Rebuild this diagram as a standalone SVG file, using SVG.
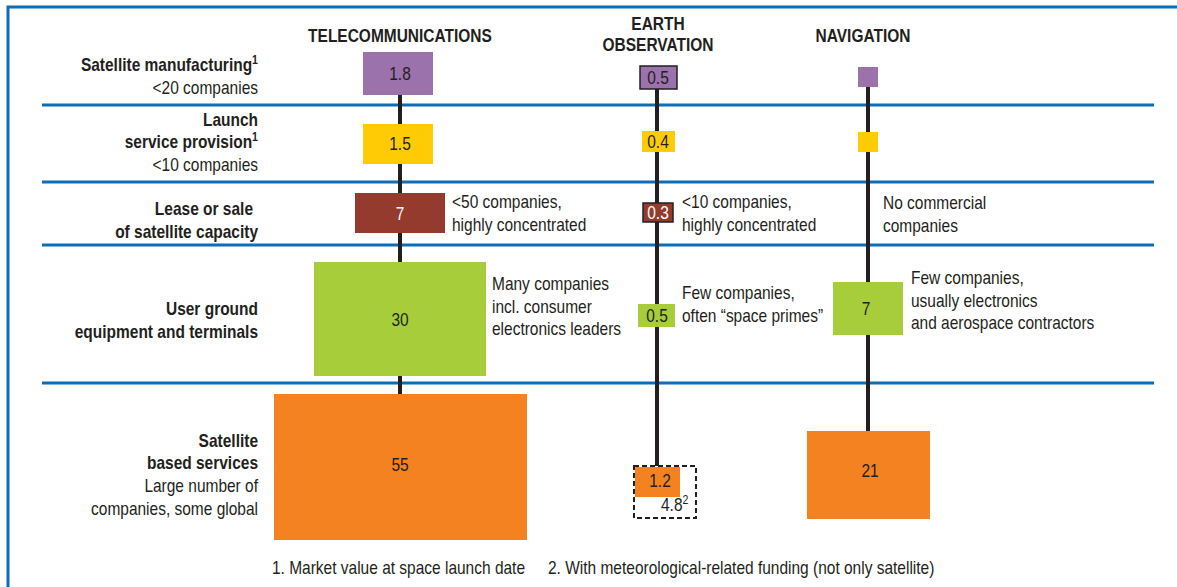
<svg xmlns="http://www.w3.org/2000/svg" width="1177" height="587" viewBox="0 0 1177 587">
<style>
text{font-family:"Liberation Sans Narrow","Liberation Sans",Arial,sans-serif;fill:#231f20;font-size:19px;transform-box:view-box;transform-origin:0 0;transform:scale(0.815,1)}
.b{font-weight:bold}
.r{text-anchor:end}
.m{text-anchor:middle}
.w{fill:#ffffff}
.sup{font-size:13px}
.sep{stroke:#0c6db8;stroke-width:3;fill:none}
.conn{stroke:#231f20;stroke-width:4;fill:none}
.pu{fill:#9b72ac}.ye{fill:#ffcb05}.br{fill:#953b2d}.gr{fill:#a7cd3a}.or{fill:#f58220}
.ol{stroke:#231f20;stroke-width:1.5}
</style>
<rect width="1177" height="587" fill="#ffffff"/>
<path class="sep" d="M8,587 V7 H1177"/>
<g id="separators">
<line class="sep" x1="42" y1="105" x2="1154" y2="105"/>
<line class="sep" x1="42" y1="182" x2="1154" y2="182"/>
<line class="sep" x1="42" y1="245" x2="1154" y2="245"/>
<line class="sep" x1="42" y1="383" x2="1154" y2="383"/>
</g>
<g id="headers">
<text class="b m" x="490.80" y="42">TELECOMMUNICATIONS</text>
<text class="b m" x="807.36" y="30">EARTH</text>
<text class="b m" x="807.36" y="51.5">OBSERVATION</text>
<text class="b m" x="1058.90" y="42">NAVIGATION</text>
</g>
<g id="row-labels">
<text class="b r" x="316.56" y="71">Satellite manufacturing<tspan class="sup" dy="-7">1</tspan></text>
<text class="r" x="316.56" y="94">&lt;20 companies</text>
<text class="b r" x="316.56" y="126">Launch</text>
<text class="b r" x="316.56" y="148">service provision<tspan class="sup" dy="-7">1</tspan></text>
<text class="r" x="316.56" y="171">&lt;10 companies</text>
<text class="b r" x="310.43" y="215">Lease or sale</text>
<text class="b r" x="316.56" y="238">of satellite capacity</text>
<text class="b r" x="316.56" y="315">User ground</text>
<text class="b r" x="316.56" y="338">equipment and terminals</text>
<text class="b r" x="316.56" y="447">Satellite</text>
<text class="b r" x="316.56" y="469">based services</text>
<text class="r" x="316.56" y="492">Large number of</text>
<text class="r" x="316.56" y="515">companies, some global</text>
</g>
<g id="connectors">
<line class="conn" x1="400" y1="95" x2="400" y2="394"/>
<line class="conn" x1="657" y1="89" x2="657" y2="466"/>
<line class="conn" x1="868" y1="87" x2="868" y2="431"/>
</g>
<g id="telecom-manufacturing"><rect class="pu" x="363" y="52" width="70" height="43"/><text class="m" x="490.80" y="80">1.8</text></g>
<g id="telecom-launch"><rect class="ye" x="363" y="124" width="70" height="40"/><text class="m" x="490.80" y="150">1.5</text></g>
<g id="telecom-lease"><rect class="br" x="355" y="193" width="90" height="40"/><text class="m w" x="490.80" y="220">7</text>
<text x="554.60" y="208">&lt;50 companies,</text><text x="554.60" y="231">highly concentrated</text></g>
<g id="telecom-ground"><rect class="gr" x="314" y="262" width="172" height="114"/><text class="m" x="490.80" y="326">30</text>
<text x="603.68" y="290">Many companies</text><text x="603.68" y="313">incl. consumer</text><text x="603.68" y="335">electronics leaders</text></g>
<g id="telecom-services"><rect class="or" x="274" y="394" width="253" height="146"/><text class="m" x="490.80" y="471">55</text></g>
<g id="eo-manufacturing"><rect class="pu ol" x="640" y="66" width="37" height="23"/><text class="m" x="807.36" y="84">0.5</text></g>
<g id="eo-launch"><rect class="ye" x="642" y="131" width="33" height="21"/><text class="m" x="807.36" y="148">0.4</text></g>
<g id="eo-lease"><rect class="br ol" x="643" y="203" width="30" height="19"/><text class="m w" x="807.36" y="219">0.3</text>
<text x="836.81" y="208">&lt;10 companies,</text><text x="836.81" y="231">highly concentrated</text></g>
<g id="eo-ground"><rect class="gr" x="638" y="304" width="37" height="23"/><text class="m" x="806.13" y="322">0.5</text>
<text x="836.81" y="299">Few companies,</text><text x="836.81" y="322">often “space primes”</text></g>
<g id="eo-services"><rect x="634" y="466" width="62" height="52" fill="none" stroke="#231f20" stroke-width="2" stroke-dasharray="5,3"/><rect class="or" x="635" y="467" width="45" height="30"/><text class="m" x="809.82" y="487">1.2</text><text x="811.04" y="511">4.8<tspan class="sup" dy="-7">2</tspan></text></g>
<g id="nav-manufacturing"><rect class="pu" x="858" y="67" width="20" height="20"/></g>
<g id="nav-launch"><rect class="ye" x="858" y="132" width="20" height="20"/></g>
<g id="nav-lease"><text x="1083.44" y="209">No commercial</text><text x="1083.44" y="232">companies</text></g>
<g id="nav-ground"><rect class="gr" x="833" y="282" width="70" height="53"/><text class="m" x="1062.58" y="315">7</text>
<text x="1117.79" y="284">Few companies,</text><text x="1117.79" y="307">usually electronics</text><text x="1117.79" y="329">and aerospace contractors</text></g>
<g id="nav-services"><rect class="or" x="807" y="431" width="123" height="88"/><text class="m" x="1067.48" y="477">21</text></g>
<g id="footnotes">
<text x="333.74" y="574">1. Market value at space launch date</text>
<text x="672.39" y="574">2. With meteorological-related funding (not only satellite)</text>
</g>
</svg>
